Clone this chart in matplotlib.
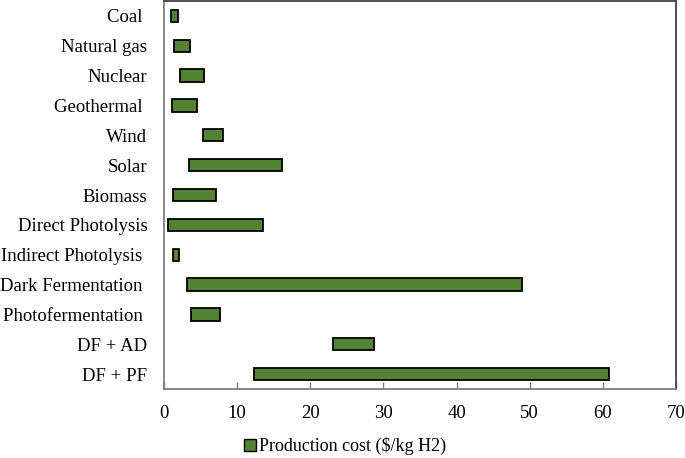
import matplotlib
matplotlib.use("Agg")
import matplotlib.pyplot as plt
from matplotlib.patches import Patch

categories = ["Coal ", "Natural gas", "Nuclear", "Geothermal ", "Wind", "Solar",
              "Biomass", "Direct Photolysis", "Indirect Photolysis ",
              "Dark Fermentation ", "Photofermentation ", "DF + AD", "DF + PF"]
cost_min = [0.9, 1.35, 2.2, 1.1, 5.3, 3.4, 1.2, 0.55, 1.2, 3.2, 3.7, 23.05, 12.3]
cost_max = [1.9, 3.55, 5.5, 4.5, 8.05, 16.1, 7.05, 13.6, 2.1, 49.0, 7.65, 28.75, 60.8]
series_label = "Production cost ($/kg H2)"

plt.rcParams['font.family'] = ['Liberation Serif', 'DejaVu Serif']

fig = plt.figure(figsize=(6.85, 4.58), dpi=100)
ax = fig.add_axes([164/685, 69/458, 512/685, 388/458])

green = '#548235'
ypos = list(range(len(categories)))
widths = [b - a for a, b in zip(cost_min, cost_max)]
ax.barh(ypos, widths, left=cost_min, height=0.41, color=green,
        edgecolor='black', linewidth=1.3)

ax.set_xlim(0, 70)
ax.set_ylim(len(categories) - 0.5, -0.5)
ax.set_yticks(ypos)
ax.set_yticklabels(categories, fontsize=13.5)
ax.set_xticks(range(0, 71, 10))
ax.tick_params(axis='x', direction='in', length=5, width=1, color='#7f7f7f',
               labelsize=13.5, pad=11.5)
ax.tick_params(axis='y', length=0, pad=12)
for s in ['left', 'bottom']:
    ax.spines[s].set_color('#7f7f7f')
    ax.spines[s].set_linewidth(1.3)
for s in ['top', 'right']:
    ax.spines[s].set_color('#404040')
    ax.spines[s].set_linewidth(1.3)

handle = Patch(facecolor=green, edgecolor='black', linewidth=1.0)
fig.legend([handle], [series_label], loc='center', bbox_to_anchor=(345/685, 1 - 446/458),
           frameon=False, fontsize=13, handlelength=0.65, handleheight=0.65,
           handletextpad=0.2, borderpad=0)

fig.savefig("out.png", dpi=100)
